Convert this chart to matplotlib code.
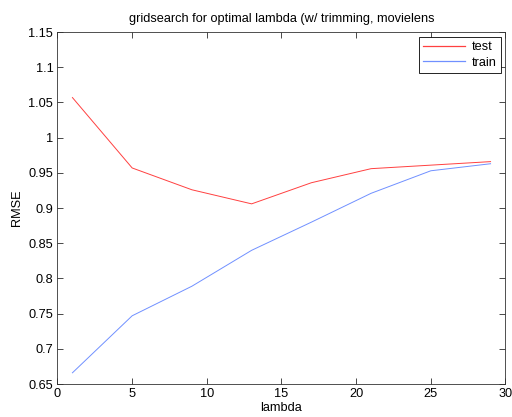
import numpy as np
import matplotlib
matplotlib.use('Agg')
import matplotlib.pyplot as plt

#lambda grid and rmse values
lambdas = [1, 5, 9, 13, 17, 21, 25, 29]
rmseTest = [1.057, 0.957, 0.926, 0.906, 0.936, 0.956, 0.961, 0.966]
rmseTrain = [0.666, 0.747, 0.789, 0.840, 0.880, 0.921, 0.953, 0.963]

plt.rcParams['font.family'] = ['Liberation Sans', 'DejaVu Sans']
plt.rcParams['font.size'] = 9.2

fig = plt.figure(figsize=(5.12, 4.17), dpi=100)
ax = fig.add_axes([0.1123, 0.079, 0.8750, 0.844])

ax.plot(lambdas, rmseTest, color='#ff4040', lw=0.7, label='test')
ax.plot(lambdas, rmseTrain, color='#7090ff', lw=0.7, label='train')

ax.set_xlim(0, 30)
ax.set_ylim(0.65, 1.15)
ax.set_xticks(np.arange(0, 31, 5))
ax.set_yticks([0.65, 0.7, 0.75, 0.8, 0.85, 0.9, 0.95, 1, 1.05, 1.1, 1.15])
ax.set_yticklabels(['0.65', '0.7', '0.75', '0.8', '0.85', '0.9', '0.95', '1', '1.05', '1.1', '1.15'])
ax.tick_params(direction='in', top=True, right=True, length=4, width=0.5, pad=3)
for s in ax.spines.values():
    s.set_linewidth(0.6)
    s.set_color('#333333')

ax.set_xlabel('lambda', labelpad=1)
ax.set_ylabel('RMSE', labelpad=4)
ax.set_title('gridsearch for optimal lambda (w/ trimming, movielens', fontsize=9.2, pad=7)

leg = ax.legend(loc='upper right', fancybox=False, edgecolor='black', framealpha=1,
                handlelength=3.3, borderaxespad=0.35, borderpad=0.35, labelspacing=0.3,
                handletextpad=0.5)
leg.get_frame().set_linewidth(0.6)
for ln in leg.get_lines():
    ln.set_linewidth(0.9)

fig.savefig('out.png', dpi=100)
